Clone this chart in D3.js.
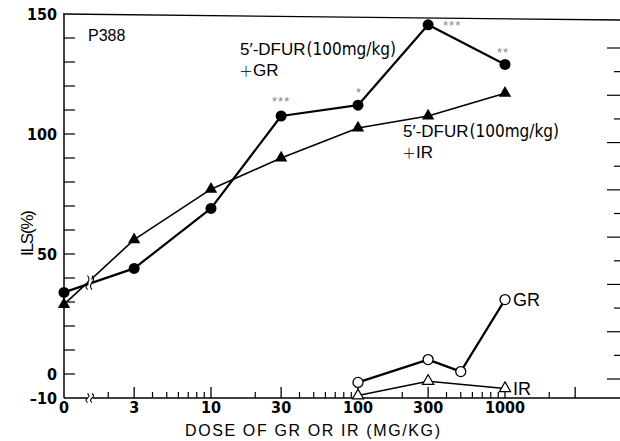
<!DOCTYPE html>
<html>
<head>
  <title>ILS vs dose</title>
  <script src="https://d3js.org/d3.v7.min.js"></script>
  <style>
    body { margin: 0; background: #fff; }
    text { fill: #000; }
  </style>
</head>
<body>
  <svg width="620" height="441"></svg>
</body>
<script>

// data
const doses = [0, 3, 10, 30, 100, 300, 1000];
const dfurGR = [34, 44, 69, 107.5, 112, 145.5, 129];
const dfurIR = [29, 56, 77, 90, 102.5, 107.5, 117];
const grDoses = [100, 300, 500, 1000];
const grAlone = [-3.5, 6, 1, 31];
const irDoses = [100, 300, 1000];
const irAlone = [-9, -3, -6];

const xTickValues = [0, 3, 10, 30, 100, 300, 1000];
const xTickLabels = ['0', '3', '10', '30', '100', '300', '1000'];
const xMinor = [2, 4, 5, 6, 7, 8, 9, 20, 40, 50, 60, 70, 80, 90, 200, 400, 500, 600, 700, 800, 900, 2000];
const xMajorExtra = [3000];
const yLabelValues = [-10, 0, 50, 100, 150];
const sigDoses = [30, 100, 300, 1000];
const sigText = ['***', '*', '***', '**'];

const numFont = '"Liberation Sans Narrow", "DejaVu Sans Condensed", sans-serif';
const txtFont = '"Liberation Sans", Arial, sans-serif';

let svg = d3.select('svg');

let x = d3.scaleLog().domain([1, 1000]).range([64, 505]);
let xPos = d => x(d === 0 ? 1 : d);
let y = d3.scaleLinear().domain([-10, 150]).range([398, 14]);
let yR = d3.scaleLinear().domain([0, 14]).range([379, 48]);

const breakX = xPos(0) + 25;

// frame
svg.append('line')
  .attr('x1', x(1) - 1).attr('x2', 620)
  .attr('y1', y(150)).attr('y2', y(150) + 6)
  .style('stroke', '#000').style('stroke-width', 1.3);

svg.append('line')
  .attr('x1', x(1)).attr('x2', x(1))
  .attr('y1', y(150)).attr('y2', y(-10))
  .style('stroke', '#000').style('stroke-width', 1.5);

svg.append('line')
  .attr('x1', x(1)).attr('x2', 620)
  .attr('y1', y(-10)).attr('y2', y(-10))
  .style('stroke', '#000').style('stroke-width', 1.5);

// left ticks, every 10
d3.range(0, 150, 10).forEach(v => {
  svg.append('line')
    .attr('x1', x(1)).attr('x2', x(1) + 11)
    .attr('y1', y(v)).attr('y2', y(v))
    .style('stroke', '#000').style('stroke-width', 1.2);
});

yLabelValues.forEach(v => {
  svg.append('text')
    .attr('x', x(1) - 7)
    .attr('y', y(v))
    .attr('dy', '0.36em')
    .attr('text-anchor', 'end')
    .style('font-family', numFont)
    .style('font-size', '16px')
    .style('font-weight', 'bold')
    .text(v < 0 ? '\u2013' + Math.abs(v) : v);
});

// right ticks
d3.range(0, 15).forEach(i => {
  let long = (14 - i) % 2 === 0;
  svg.append('line')
    .attr('x1', long ? 607 : 614).attr('x2', 620)
    .attr('y1', yR(i)).attr('y2', yR(i))
    .style('stroke', '#000').style('stroke-width', 1.2);
});

// bottom ticks
xMinor.forEach(d => {
  svg.append('line')
    .attr('x1', x(d)).attr('x2', x(d))
    .attr('y1', y(-10)).attr('y2', y(-10) - 6)
    .style('stroke', '#000').style('stroke-width', 1.2);
});
xTickValues.slice(1).concat(xMajorExtra).forEach(d => {
  svg.append('line')
    .attr('x1', x(d)).attr('x2', x(d))
    .attr('y1', y(-10)).attr('y2', y(-10) - 11)
    .style('stroke', '#000').style('stroke-width', 1.3);
});

xTickValues.forEach((d, i) => {
  svg.append('text')
    .attr('x', xPos(d))
    .attr('y', y(-10) + 15)
    .attr('text-anchor', 'middle')
    .style('font-family', numFont)
    .style('font-size', '16px')
    .style('font-weight', 'bold')
    .text(xTickLabels[i]);
});

// axis break squiggles
let squiggle = (g, cx, cy, h) => {
  [cx - 1.5, cx + 3].forEach(sx => {
    g.append('path')
      .attr('d', 'M' + sx + ',' + (cy - h) +
        ' q3,' + (h / 2) + ' 0,' + h + ' q-3,' + (h / 2) + ' 0,' + h)
      .style('fill', 'none').style('stroke', '#000').style('stroke-width', 1.1);
  });
};

svg.append('rect')
  .attr('x', breakX - 2).attr('y', y(-10) - 3)
  .attr('width', 6).attr('height', 6)
  .style('fill', '#fff');
squiggle(svg, breakX, y(-10), 4.5);

// titles
svg.append('text')
  .attr('x', 185).attr('y', 441 - 5)
  .attr('textLength', 255)
  .attr('lengthAdjust', 'spacing')
  .style('font-family', txtFont)
  .style('font-size', '16px')
  .text('DOSE  OF  GR OR  IR  (MG/KG)');

svg.append('text')
  .attr('transform', 'translate(33,233) rotate(-90)')
  .attr('text-anchor', 'middle')
  .attr('textLength', 46)
  .attr('lengthAdjust', 'spacing')
  .style('font-family', txtFont)
  .style('font-size', '17px')
  .text('ILS(%)');

svg.append('text')
  .attr('x', 88).attr('y', 41)
  .style('font-family', txtFont)
  .style('font-size', '16px')
  .text('P388');

// lines
let line = d3.line().x(d => xPos(d[0])).y(d => y(d[1]));

let drawLine = (xs, ys, w) => {
  svg.append('path')
    .datum(xs.map((d, i) => [d, ys[i]]))
    .attr('d', line)
    .style('fill', 'none')
    .style('stroke', '#000')
    .style('stroke-width', w)
    .style('stroke-linejoin', 'round');
};

drawLine(doses, dfurGR, 2.2);
drawLine(doses, dfurIR, 1.6);
drawLine(grDoses, grAlone, 2.2);
drawLine(irDoses, irAlone, 1.5);

// break on the two combination lines
let yAtBreak = ys => {
  let t = (breakX - xPos(doses[0])) / (xPos(doses[1]) - xPos(doses[0]));
  return y(ys[0] + t * (ys[1] - ys[0]));
};
let yb1 = yAtBreak(dfurGR), yb2 = yAtBreak(dfurIR);
let ybMid = (yb1 + yb2) / 2;
svg.append('rect')
  .attr('x', breakX - 0.5).attr('y', Math.min(yb1, yb2) - 4)
  .attr('width', 3).attr('height', Math.abs(yb1 - yb2) + 8)
  .style('fill', '#fff');
squiggle(svg, breakX, ybMid, 7);

// markers
let tri = d3.symbol().type(d3.symbolTriangle).size(66);
let triOpen = d3.symbol().type(d3.symbolTriangle).size(55);

doses.forEach((d, i) => {
  svg.append('circle')
    .attr('cx', xPos(d)).attr('cy', y(dfurGR[i]))
    .attr('r', 5.5)
    .style('fill', '#000');
  svg.append('path')
    .attr('d', tri)
    .attr('transform', 'translate(' + xPos(d) + ',' + y(dfurIR[i]) + ')')
    .style('fill', '#000');
});

grDoses.forEach((d, i) => {
  svg.append('circle')
    .attr('cx', xPos(d)).attr('cy', y(grAlone[i]))
    .attr('r', 5)
    .style('fill', '#fff')
    .style('stroke', '#000')
    .style('stroke-width', 1.3);
});

irDoses.forEach((d, i) => {
  svg.append('path')
    .attr('d', triOpen)
    .attr('transform', 'translate(' + xPos(d) + ',' + y(irAlone[i]) + ')')
    .style('fill', '#fff')
    .style('stroke', '#000')
    .style('stroke-width', 1.2);
});

// significance marks
let sigDx = [0, 1, 24, -2];
let sigDy = [-10, -8, 5, -7];
sigDoses.forEach((d, i) => {
  let k = doses.indexOf(d);
  svg.append('text')
    .attr('x', xPos(d) + sigDx[i])
    .attr('y', y(dfurGR[k]) + sigDy[i])
    .attr('text-anchor', 'middle')
    .style('font-family', txtFont)
    .style('font-size', '13px')
    .style('fill', '#888')
    .style('letter-spacing', '1px')
    .text(sigText[i]);
});

// series labels, two lines in one text element
let comboLabel = (lx, ly, suffix) => {
  let t = svg.append('text')
    .attr('x', lx).attr('y', ly)
    .style('font-family', txtFont)
    .style('font-size', '17px');
  t.append('tspan').text('5\u2032-DFUR');
  t.append('tspan')
    .attr('dx', 1)
    .style('font-family', numFont)
    .style('font-size', '17px')
    .text('(100mg/kg)');
  t.append('tspan')
    .attr('x', lx - 1).attr('dy', 21)
    .style('font-family', '"Noto Sans CJK JP", sans-serif')
    .style('font-size', '14px')
    .style('font-weight', 300)
    .text('\uFF0B');
  t.append('tspan')
    .text(suffix);
};
comboLabel(240, 55, 'GR');
comboLabel(403, 137, 'IR');

svg.append('text')
  .attr('x', xPos(1000) + 8).attr('y', y(grAlone[3]))
  .attr('dy', '0.36em')
  .style('font-family', txtFont)
  .style('font-size', '18px')
  .text('GR');

svg.append('text')
  .attr('x', xPos(1000) + 8).attr('y', y(irAlone[2]))
  .attr('dy', '0.36em')
  .style('font-family', txtFont)
  .style('font-size', '18px')
  .text('IR');

</script>
</html>
